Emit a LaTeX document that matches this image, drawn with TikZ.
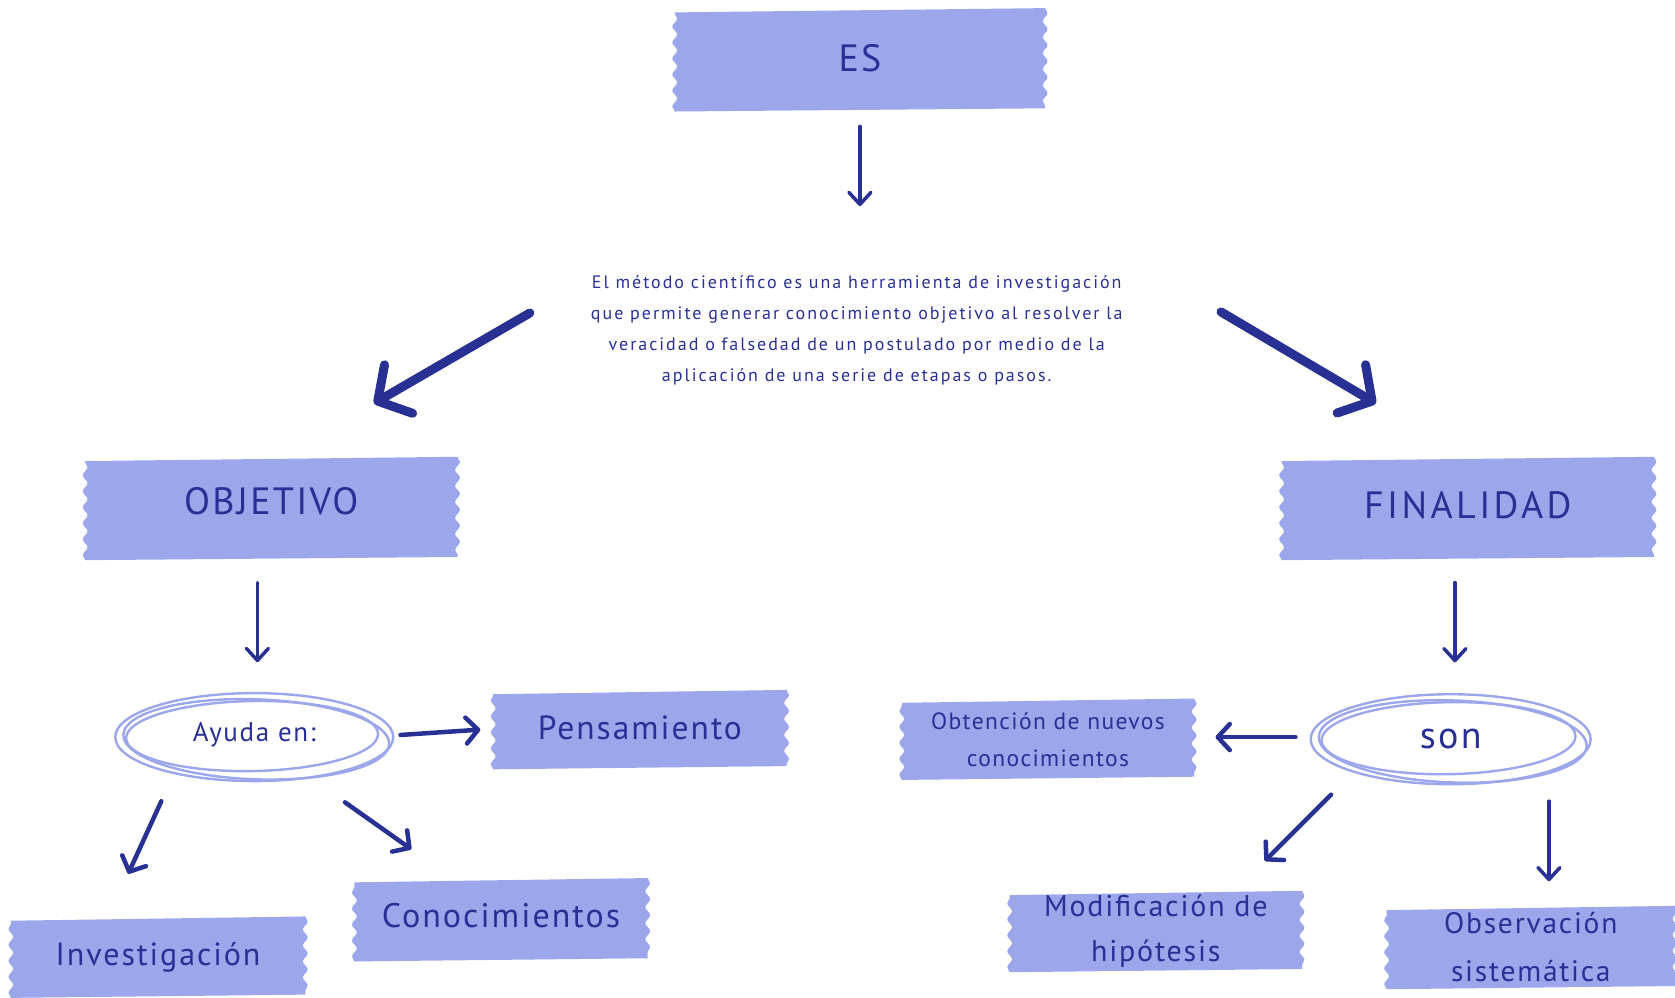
\documentclass[tikz,border=0pt]{standalone}
\usepackage{fontspec}
\setmainfont{PT Sans}
\newfontfamily\hand{PT Sans}[LetterSpace=6]
\newfontfamily\parafam{PT Sans}[LetterSpace=11]
\usetikzlibrary{arrows.meta,decorations.pathmorphing,backgrounds,calc,shapes.geometric}
\definecolor{tapec}{RGB}{156,166,234}
\definecolor{inkc}{RGB}{40,48,148}
\newcommand\tapefill[1]{%
  \fill[tapec] ($(#1.north west)+(0,4)$) -- (#1.north east)
    decorate[decoration={snake,amplitude=2.4pt,segment length=16pt}]{-- ($(#1.south east)+(0,-3)$)}
    -- (#1.south west)
    decorate[decoration={snake,amplitude=2.4pt,segment length=16pt}]{-- ($(#1.north west)+(0,4)$)} -- cycle;}
\begin{document}
\begin{tikzpicture}[x=1.0683pt,y=-1.0683pt, text=inkc,
  tape/.style={inner sep=0pt, align=center},
  big/.style={font=\hand\fontsize{38}{44}\selectfont},
  ring/.style={draw=tapec, line width=2.4pt},
  sarr/.style={draw=inkc, line width=3.5pt, line cap=round, -{Straight Barb[length=12pt,width=22pt,round]}},
  marr/.style={draw=inkc, line width=4.5pt, line cap=round, -{Straight Barb[length=12pt,width=26pt,round]}},
  barr/.style={draw=inkc, line width=9pt, line cap=round, -{Straight Barb[length=24pt,width=56pt,round]}}]
\useasboundingbox (0,0) rectangle (1568,934);
\clip (0,0) rectangle (1568,934);

% nodes
\node[tape, big, minimum width=370pt, minimum height=103pt, text depth=4pt] (es) at (805,56) {ES};
\node[anchor=north, align=center, inner sep=0pt, font=\parafam\fontsize{18}{31}\selectfont] (para) at (802,258)
  {El método científico es una herramienta de investigación\\
   que permite generar conocimiento objetivo al resolver la\\
   veracidad o falsedad de un postulado por medio de la\\
   aplicación de una serie de etapas o pasos.};
\node[tape, big, minimum width=372pt, minimum height=103pt, text depth=15pt] (obj) at (254,476) {OBJETIVO};
\node[tape, minimum width=372pt, minimum height=103pt, text depth=6pt, font=\hand\fontsize{38}{44}\addfontfeature{LetterSpace=9}\selectfont] (fin) at (1374,476) {FINALIDAD};
\node[ellipse, inner sep=0pt, minimum width=273pt, minimum height=81pt, text depth=10pt, font=\hand\fontsize{27}{30}\selectfont] (ayuda) at (238,690) {Ayuda en:};
\node[ellipse, inner sep=0pt, minimum width=278pt, minimum height=85pt, font=\hand\fontsize{38}{40}\selectfont] (son) at (1358,692) {son};
\node[tape, minimum width=293pt, minimum height=79pt, text depth=4pt, font=\hand\fontsize{33.5}{40}\selectfont] (pens) at (599,683) {Pensamiento};
\node[tape, minimum width=294pt, minimum height=81pt, font=\hand\fontsize{32}{40}\selectfont] (inv) at (148,896) {Investigación};
\node[tape, minimum width=293pt, minimum height=83pt, text depth=8pt, font=\hand\fontsize{34}{40}\selectfont] (con) at (469,861) {Conocimientos};
\node[tape, minimum width=292pt, minimum height=81pt, font=\hand\fontsize{23.5}{37}\selectfont] (obt) at (981,692) {Obtención de nuevos\\conocimientos};
\node[tape, minimum width=292pt, minimum height=81pt, font=\hand\fontsize{30}{45}\selectfont] (mod) at (1082,872) {Modificación de\\hipótesis};
\node[tape, minimum width=288pt, minimum height=83pt, font=\hand\fontsize{29.5}{48}\selectfont] (obs) at (1433,887) {Observación\\sistemática};

% backgrounds
\begin{pgfonlayer}{background}
  \foreach \n in {es,obj,fin,pens,inv,con,obt,mod,obs} {\tapefill{\n}}
  \fill[white] (ayuda.center) ellipse [x radius=136pt, y radius=41pt];
  \draw[ring] (ayuda.center) ellipse [x radius=139pt, y radius=44pt];
  \draw[ring, rotate around={-2:(ayuda.center)}] ($(ayuda.center)+(2,2)$) ellipse [x radius=133pt, y radius=40pt];
  \draw[ring, rotate around={1:(ayuda.center)}] ($(ayuda.center)+(-2,-1)$) ellipse [x radius=126pt, y radius=35pt];
  \fill[white] (son.center) ellipse [x radius=136pt, y radius=42pt];
  \draw[ring] (son.center) ellipse [x radius=140pt, y radius=45pt];
  \draw[ring, rotate around={-2:(son.center)}] ($(son.center)+(2,2)$) ellipse [x radius=134pt, y radius=41pt];
  \draw[ring, rotate around={1:(son.center)}] ($(son.center)+(-2,-1)$) ellipse [x radius=127pt, y radius=36pt];
\end{pgfonlayer}

% connectors
\draw[sarr] ($(es.south)+(0,14)$) -- ($(para.north)+(3,-65)$);
\draw[barr] ($(para.north)+(-306,35)$) -- ($(obj.north)+(96,-50)$);
\draw[barr] ($(para.north)+(341,34)$) -- ($(fin.north)+(-86,-50)$);
\draw[sarr] ($(obj.south)+(-13,21)$) -- ($(ayuda.north)+(3,-32)$);
\draw[sarr] ($(fin.south)+(-12,21)$) -- ($(son.north)+(4,-32)$);
\draw[marr] ($(ayuda.east)+(9,-2)$) -- ($(pens.west)+(-12,0)$);
\draw[marr] ($(ayuda.south)+(-87,22)$) -- ($(inv.north)+(-28,-40)$);
\draw[marr] ($(ayuda.south)+(85,23)$) -- ($(con.north)+(-84,-27)$);
\draw[marr] ($(son.west)+(-15,-2)$) -- ($(obt.east)+(20,-2)$);
\draw[marr] ($(son.south)+(-112,12)$) -- ($(mod.north)+(102,-28)$);
\draw[sarr] ($(son.south)+(92,18)$) -- ($(obs.north)+(17,-23)$);
\end{tikzpicture}
\end{document}
